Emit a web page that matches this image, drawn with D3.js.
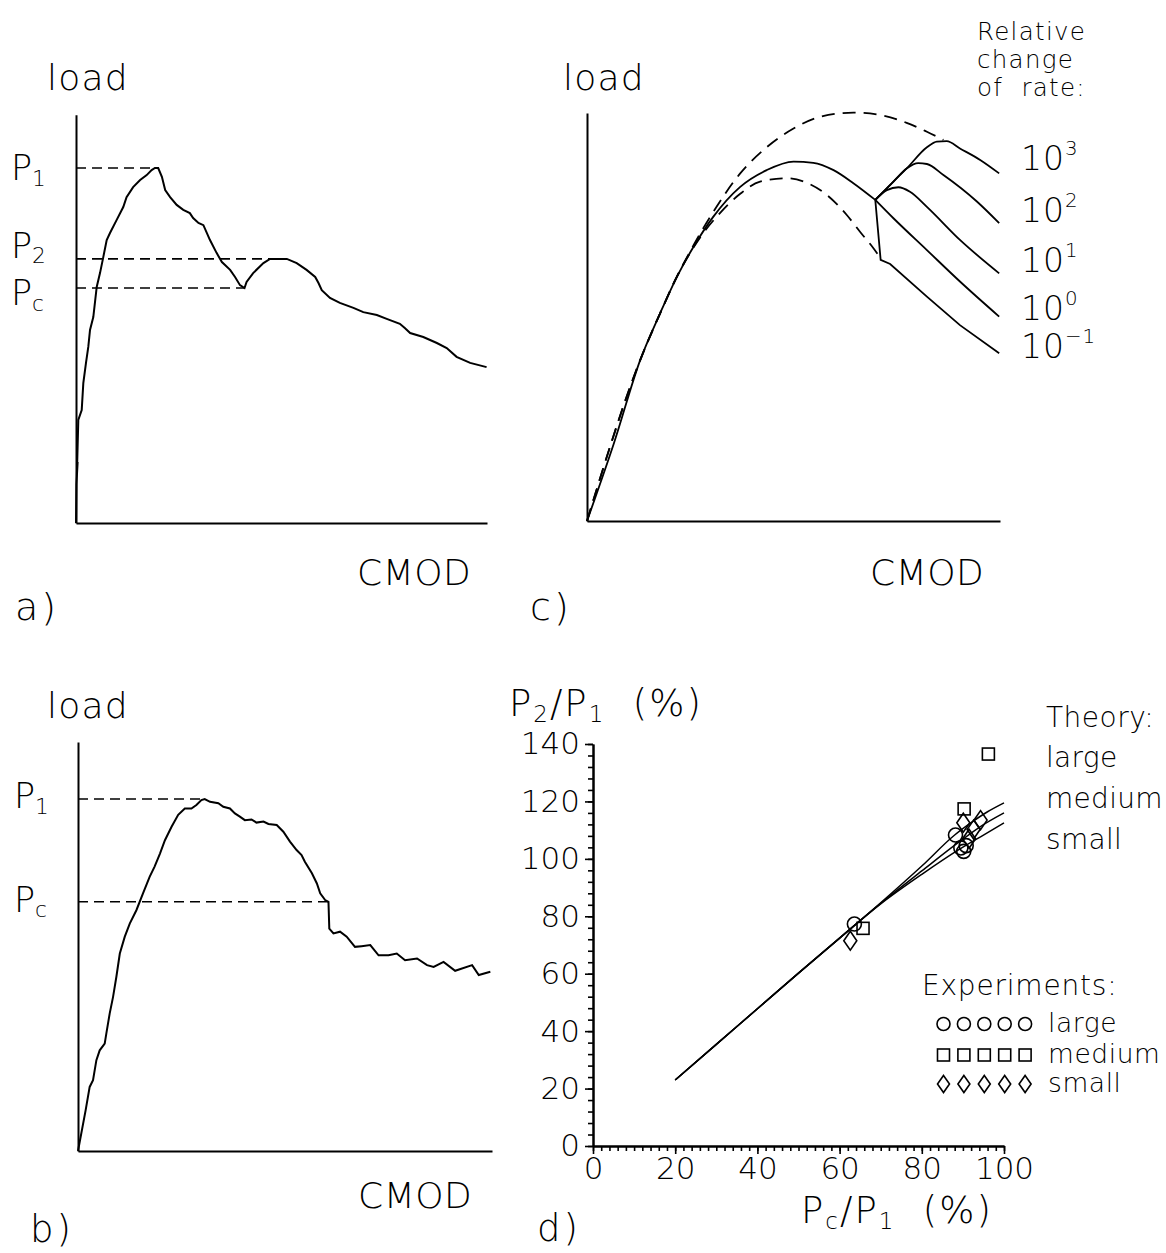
<!DOCTYPE html>
<html><head><meta charset="utf-8">
<script src="https://cdnjs.cloudflare.com/ajax/libs/d3/7.8.5/d3.min.js"></script>
<style>
body{margin:0;background:#fff}
svg text{font-family:'DejaVu Sans',sans-serif;fill:#000;font-weight:300}
</style></head><body>
<svg id="chart" width="1166" height="1253"></svg>
<script>
// ---------- DATA ----------
// Panel a: load (P1 = 100) vs CMOD (axis length = 100)
const curveA = [[0,0],[0.1,11],[0.4,17.2],[0.2,13],[0.56,29],[1.39,31.8],[1.78,39.4],[2.43,45.1],[2.99,49.6],[3.41,54.4],[4.21,58],[5.04,66.5],[5.84,70.4],[6.64,74.9],[7.47,79.7],[8.27,81.7],[9.9,85.4],[11.5,89],[12.3,91.8],[13.9,94.6],[15.6,96.6],[17.2,98],[18.4,99.4],[19.2,100],[20,100],[20.9,97.5],[21.7,93.8],[22.9,91.8],[24.5,89.6],[26.1,88.2],[27.7,87.3],[28.5,85.9],[29.8,84.5],[31,83.9],[32.6,79.7],[34.2,76.1],[35.5,73.5],[37.5,71.3],[38.7,69.3],[39.9,67],[41,66.2],[41.5,67.9],[43.1,70.4],[45.6,73.2],[47.2,74.4],[51.3,74.4],[53.7,73.2],[56.1,71.3],[58.2,69.3],[59,67.6],[59.8,65.6],[61.8,63.4],[64.2,62],[67.5,60.6],[69.9,59.4],[73.2,58.6],[75.6,57.5],[78.8,56.1],[80,54.9],[81.3,53.5],[84.5,52.4],[87.8,50.7],[90.2,49.3],[92.6,46.8],[95.9,45.1],[99.9,43.9]];
const levelsA = [100, 74.4, 66.2];
const levelEndsA = [19.6, 51.3, 41];
const levelSubsA = ["1","2","c"];

// Panel b
const curveB = [[0,0],[1.85,11.6],[2.82,18.2],[3.63,20.1],[4.44,25.8],[5.24,28.6],[6.45,30.5],[6.85,33.4],[7.66,39.1],[8.47,43.8],[9.27,49.5],[10.1,56.1],[11.3,60.9],[12.5,64.6],[14.1,68.4],[15.7,73.2],[17.3,77.9],[18.5,80.8],[19.8,84.5],[21,88.3],[22.6,92.1],[24.2,95.5],[25.8,97.3],[27.4,97.3],[28.6,98.3],[29.8,99.7],[30.6,100],[31.9,99.2],[33.9,98.8],[35.1,97.8],[36.7,97.3],[37.9,95.9],[39.1,95],[40.3,94],[41.9,94.2],[43.1,93.3],[44.8,93.6],[46,92.9],[48,92.6],[49.6,90.7],[51.2,87.9],[52.8,85.5],[54,84.1],[54.8,82.2],[56.5,78.9],[57.7,76],[58.5,73.2],[59.7,71.3],[60.5,70.8],[60.7,63.2],[61.7,61.8],[63.3,62.3],[64.9,60.9],[66.9,58],[68.5,58.2],[70.6,58.5],[72.6,55.6],[75,55.6],[77,56.1],[79,54.2],[81.9,54.7],[84.3,52.8],[85.9,52.3],[88.3,53.7],[91.1,51.2],[95.2,52.8],[96.8,50],[99.6,50.9]];
const levelsB = [100, 70.8];
const levelEndsB = [30.6, 60.5];
const levelSubsB = ["1","c"];

// Panel c
const curveCMain = [[0,0],[6.5,19],[12.9,39.5],[17.7,50.9],[21.8,59.9],[25.8,67.2],[30.6,74.6],[37.1,81.9],[43.5,86],[50,88.1],[54.8,87.8],[59.7,86],[64.5,82.8],[69.8,78.7]];
const curveCUpperDash = [[0,0],[12.9,39.5],[17.7,50.9],[21.8,59.9],[25.8,67.6],[30.6,75.8],[37.1,85.2],[43.5,91.6],[50,96.2],[56.5,99.1],[64.5,100.1],[71,99.5],[77.4,97.6],[82.3,95.4],[86.3,93.4]];
const curveCLowerDash = [[0,0],[12.9,39.5],[17.7,50.9],[21.8,60],[27.4,69.5],[32.3,75.6],[37.1,80.2],[41.9,83.2],[48.4,84],[53.2,82.9],[58.1,79.9],[62.9,75],[66.1,70.9],[69.4,66.8],[71.1,64.4]];
const rateExponents = ["3","2","1","0","\u22121"];
const rateBranch3 = [[69.8,78.7],[74.2,83.2],[77.4,86.4],[82.3,91.6],[84.7,93],[87.1,93.1],[90.3,91.3],[95.2,88.5],[99.8,85.2]];
const rateBranch2 = [[69.8,78.7],[74.2,83.2],[77.4,86.4],[80.2,87.7],[82.3,87.5],[86.3,84.8],[94.4,78.3],[99.8,73]];
const rateBranch1 = [[69.8,78.7],[72.6,81.1],[75.4,81.8],[78.2,80.7],[82.3,77],[90.3,68.9],[99.8,60.7]];
const rateBranch0 = [[69.8,78.7],[74.2,74.2],[82.3,66.4],[90.3,58.7],[99.8,50.1]];
const rateBranchM1 = [[69.8,78.7],[71.1,64],[73.4,63],[82.3,55],[90.3,48],[99.8,41.1]];
const rateHeading = ["Relative","change","of  rate:"];

// Panel d: P2/P1 (%) vs Pc/P1 (%)
const xTicksD = [0,20,40,60,80,100];
const yTicksD = [0,20,40,60,80,100,120,140];
const theoryUpper = [[20,23],[30,35.4],[40,47.8],[50,60.2],[60,72.4],[70,84.7],[80,97.5],[88,108.3],[92,112.6],[96,116.4],[100,119.5]];
const theoryMiddle = [[20,23],[30,35.4],[40,47.8],[50,60.2],[60,72.4],[70,84.5],[80,95.8],[89,105.8],[94,111],[100,116]];
const theoryLower = [[20,23],[30,35.4],[40,47.8],[50,60.2],[60,72.4],[70,84.3],[80,94.6],[89,103.2],[95,108.3],[100,112.5]];
const expLarge = [[63.6,77.3],[88.2,108.3],[89.5,103.8],[90.2,102.6],[90.8,104.6]];
const expMedium = [[65.7,75.8],[90.3,117.4],[96.2,136.5]];
const expSmall = [[62.6,71.5],[90.1,112.6],[91.5,107],[92.6,110.2],[94.3,113.5]];
const theoryLegend = ["large","medium","small"];
const expLegend = ["large","medium","small"];

// ---------- DRAWING ----------
const svg = d3.select("#chart");
const black = "#000";

function ptext(g, x, y, size, parts, spacing){
  const t = g.append("text").attr("x", x).attr("y", y).attr("font-size", size)
    .attr("letter-spacing", spacing||0).style("white-space","pre");
  parts.forEach(p=>{
    const ts = t.append("tspan").text(p[0]);
    if(p[1]==="sub") ts.attr("font-size", size*0.62).attr("dy", size*0.16);
    else if(p[1]==="sup") ts.attr("font-size", size*0.6).attr("dy", -size*0.45);
    else if(p[1]==="nsub") ts.attr("dy", -size*0.16);
  });
  return t;
}

function bareAxes(x, y, ymax){
  svg.append("g").attr("transform",`translate(0,${y(0)})`)
    .call(d3.axisBottom(x).tickValues([]).tickSizeOuter(0))
    .select(".domain").attr("stroke-width",2);
  svg.append("g").attr("transform",`translate(${x(0)},0)`)
    .call(d3.axisLeft(y.copy().domain([0,ymax]).range([y(0), y(ymax)])).tickValues([]).tickSizeOuter(0))
    .select(".domain").attr("stroke-width",2);
}

function lineGen(x,y,curve){
  return d3.line().x(d=>x(d[0])).y(d=>y(d[1])).curve(curve||d3.curveLinear);
}

// ----- Panel a -----
const xA = d3.scaleLinear([0,100],[76,487]);
const yA = d3.scaleLinear([0,100],[523,168]);
bareAxes(xA, yA, 115);
levelsA.forEach((v,i)=>{
  svg.append("line").attr("x1",xA(0)).attr("x2",xA(levelEndsA[i]))
    .attr("y1",yA(v)).attr("y2",yA(v)).attr("stroke",black).attr("stroke-width",1.6)
    .attr("stroke-dasharray","10,6");
});
svg.append("path").datum(curveA).attr("d",lineGen(xA,yA)).attr("fill","none")
  .attr("stroke",black).attr("stroke-width",2);
ptext(svg,11,yA(levelsA[0])+12,35,[["P","n"],[levelSubsA[0],"sub"]]);
ptext(svg,11,yA(levelsA[1])-1,35,[["P","n"],[levelSubsA[1],"sub"]]);
ptext(svg,11,yA(levelsA[2])+17,35,[["P","n"],[levelSubsA[2],"sub"]]);
ptext(svg,47,90,36,[["load","n"]],1.2);
ptext(svg,357,585,36,[["CMOD","n"]],0.5);
ptext(svg,15,620,38,[["a)","n"]],3);

// ----- Panel b -----
const xB = d3.scaleLinear([0,100],[78,492]);
const yB = d3.scaleLinear([0,100],[1151,799]);
bareAxes(xB, yB, 116.2);
levelsB.forEach((v,i)=>{
  svg.append("line").attr("x1",xB(0)).attr("x2",xB(levelEndsB[i]))
    .attr("y1",yB(v)).attr("y2",yB(v)).attr("stroke",black).attr("stroke-width",1.6)
    .attr("stroke-dasharray","10,6");
});
svg.append("path").datum(curveB).attr("d",lineGen(xB,yB)).attr("fill","none")
  .attr("stroke",black).attr("stroke-width",2);
ptext(svg,14,yB(levelsB[0])+9,35,[["P","n"],[levelSubsB[0],"sub"]]);
ptext(svg,14,yB(levelsB[1])+10,35,[["P","n"],[levelSubsB[1],"sub"]]);
ptext(svg,47,718,36,[["load","n"]],1.2);
ptext(svg,358,1208,36,[["CMOD","n"]],0.5);
ptext(svg,30,1242,37,[["b)","n"]],3);

// ----- Panel c -----
const xC = d3.scaleLinear([0,100],[587,1000]);
const yC = d3.scaleLinear([0,100],[521,113]);
bareAxes(xC, yC, 100);
const lc = lineGen(xC,yC,d3.curveMonotoneX);
[curveCUpperDash, curveCLowerDash].forEach(c=>{
  svg.append("path").datum(c).attr("d",lc).attr("fill","none").attr("stroke",black)
    .attr("stroke-width",1.8).attr("stroke-dasharray","13,8");
});
[curveCMain, rateBranch3, rateBranch2, rateBranch1, rateBranch0].forEach(c=>{
  svg.append("path").datum(c).attr("d",lc).attr("fill","none").attr("stroke",black).attr("stroke-width",1.8);
});
svg.append("path").datum(rateBranchM1).attr("d",lineGen(xC,yC)).attr("fill","none").attr("stroke",black).attr("stroke-width",1.8);
ptext(svg,563,90,36,[["load","n"]],1.2);
ptext(svg,870,585,36,[["CMOD","n"]],0.5);
ptext(svg,530,620,38,[["c)","n"]],3);
rateHeading.forEach((s,i)=>{
  svg.append("text").attr("x",977).attr("y",[40,68,96][i]).attr("font-size",24.5)
    .attr("letter-spacing",1.3).style("white-space","pre").text(s);
});
const rateBase = [170,222,272,320,358];
rateExponents.forEach((e,i)=>{
  ptext(svg,1021,rateBase[i],33,[["10","n"],[e,"sup"]],1);
});

// ----- Panel d -----
const xD = d3.scaleLinear([0,100],[593,1004]);
const yD = d3.scaleLinear([0,140],[1146,744]);
const gx = svg.append("g").attr("transform",`translate(0,${yD(0)})`);
gx.append("g").call(d3.axisBottom(xD).tickValues(d3.range(0,101,2)).tickSize(5).tickFormat("").tickSizeOuter(0));
gx.append("g").call(d3.axisBottom(xD).tickValues(xTicksD).tickSize(8).tickPadding(3).tickSizeOuter(0));
const gy = svg.append("g").attr("transform",`translate(${xD(0)},0)`);
gy.append("g").call(d3.axisLeft(yD).tickValues(d3.range(0,141,4)).tickSize(5).tickFormat("").tickSizeOuter(0));
gy.append("g").call(d3.axisLeft(yD).tickValues(yTicksD).tickSize(8).tickPadding(5).tickSizeOuter(0));
svg.selectAll("g .domain").attr("stroke-width",2);
svg.selectAll("g .tick line").attr("stroke-width",1.6);
svg.selectAll("g .tick text").attr("font-size",31).attr("font-family","'DejaVu Sans',sans-serif").attr("font-weight",300);

const ld = lineGen(xD,yD,d3.curveMonotoneX);
[theoryUpper, theoryMiddle, theoryLower].forEach(c=>{
  svg.append("path").datum(c).attr("d",ld).attr("fill","none").attr("stroke",black).attr("stroke-width",1.5);
});
function circleMark(g,x,y,r){ g.append("circle").attr("cx",x).attr("cy",y).attr("r",r).attr("fill","none").attr("stroke",black).attr("stroke-width",1.6); }
function squareMark(g,x,y,s){ g.append("rect").attr("x",x-s/2).attr("y",y-s/2).attr("width",s).attr("height",s).attr("fill","none").attr("stroke",black).attr("stroke-width",1.6); }
function diamondMark(g,x,y,w,h){ g.append("path").attr("d",`M${x},${y-h/2}L${x+w/2},${y}L${x},${y+h/2}L${x-w/2},${y}Z`).attr("fill","none").attr("stroke",black).attr("stroke-width",1.6); }
expLarge.forEach(d=>circleMark(svg,xD(d[0]),yD(d[1]),7));
expMedium.forEach(d=>squareMark(svg,xD(d[0]),yD(d[1]),12));
expSmall.forEach(d=>diamondMark(svg,xD(d[0]),yD(d[1]),13,19));

ptext(svg,509,716,37,[["P","n"],["2","sub"],["/P","nsub"],["1","sub"],["  (%)","nsub"]],2);
ptext(svg,801,1223,37,[["P","n"],["c","sub"],["/P","nsub"],["1","sub"],["  (%)","nsub"]],2);
ptext(svg,537,1241,37,[["d)","n"]],3);

const legSize = 28;
svg.append("text").attr("x",1046).attr("y",727).attr("font-size",legSize).attr("letter-spacing",0.5).text("Theory:");
theoryLegend.forEach((s,i)=>{
  svg.append("text").attr("x",1046).attr("y",[767,808,849][i]).attr("font-size",legSize).attr("letter-spacing",0.3).text(s);
});
svg.append("text").attr("x",922).attr("y",995).attr("font-size",legSize).attr("letter-spacing",0.8).text("Experiments:");
const legY = [1024,1055,1084];
expLegend.forEach((s,i)=>{
  svg.append("text").attr("x",1048).attr("y",legY[i]+8).attr("font-size",26.5).attr("letter-spacing",0.6).text(s);
  for(let k=0;k<5;k++){
    const cx = 943.5 + k*20.4;
    if(i===0) circleMark(svg,cx,legY[i],6.5);
    else if(i===1) squareMark(svg,cx,legY[i],12);
    else diamondMark(svg,cx,legY[i],12,17);
  }
});
</script></body></html>
